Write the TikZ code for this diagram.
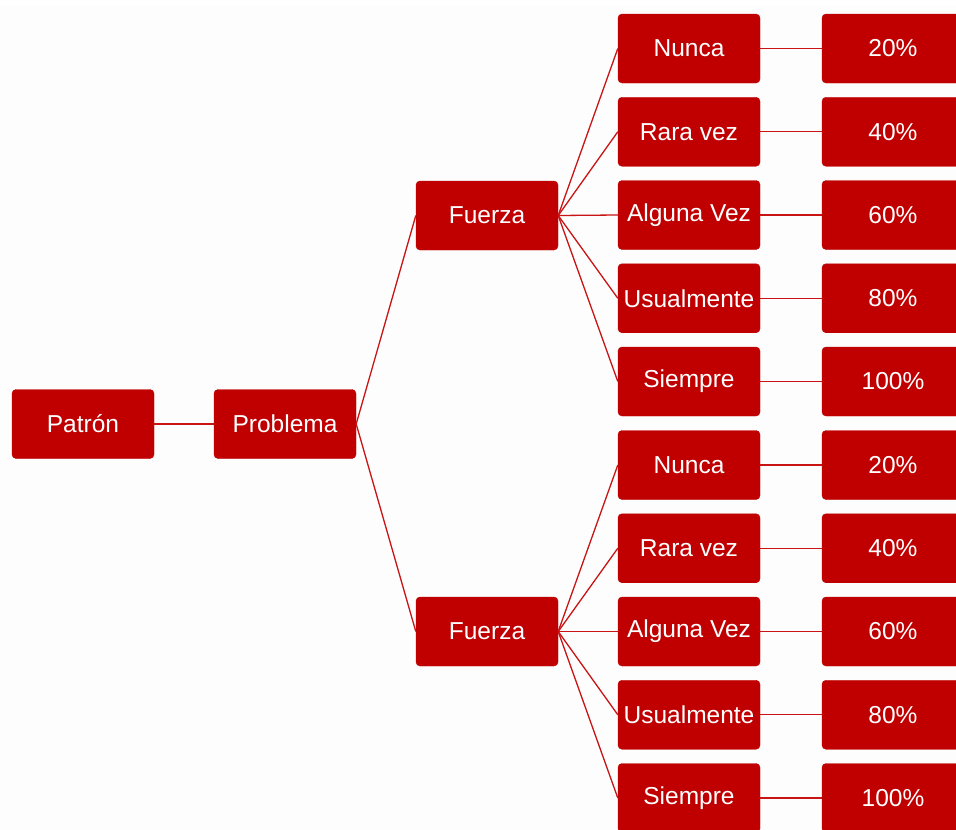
\documentclass[tikz,border=0pt]{standalone}
\usepackage{fontspec}
\setmainfont{Liberation Sans}
\definecolor{boxred}{HTML}{C00000}
\definecolor{linkred}{HTML}{C81414}
\definecolor{paper}{HTML}{FDFDFD}
\begin{document}
\begin{tikzpicture}[x=1pt,y=-1pt,
  box/.style={draw=boxred,fill=boxred,rounded corners=4pt,minimum width=142pt,minimum height=69pt,
    inner sep=0pt,text=white,font=\fontsize{24.5}{28}\selectfont},
  link/.style={draw=linkred,line width=1.3pt}]
\useasboundingbox (0,0) rectangle (956,830);
\clip (0,0) rectangle (956,830);
\fill[paper] (0,0) rectangle (956,830);
\fill[white] (0,0) rectangle (956,6);

\node[box] (patron) at (83,424) {Patrón};
\node[box] (prob) at (285,424) {Problema};
\node[box] (f1) at (487,215.5) {Fuerza};
\node[box] (f2) at (487,631.5) {Fuerza};

\draw[link] (patron.east) -- (prob.west);
\draw[link] (prob.east) -- (f1.west);
\draw[link] (prob.east) -- (f2.west);

\foreach \g/\base in {1/48.5,2/465} {
  \foreach \i/\lab/\pct in {0/Nunca/20\%,1/Rara vez/40\%,2/Alguna Vez/60\%,3/Usualmente/80\%,4/Siempre/100\%} {
    \node[box] (l\g\i) at (689,\base+83.25*\i) {\lab};
    \node[box] (p\g\i) at (893,\base+83.25*\i) {\pct};
    \draw[link] (f\g.east) -- (l\g\i.west);
    \draw[link] (l\g\i.east) -- (p\g\i.west);
  }
}
\end{tikzpicture}
\end{document}
